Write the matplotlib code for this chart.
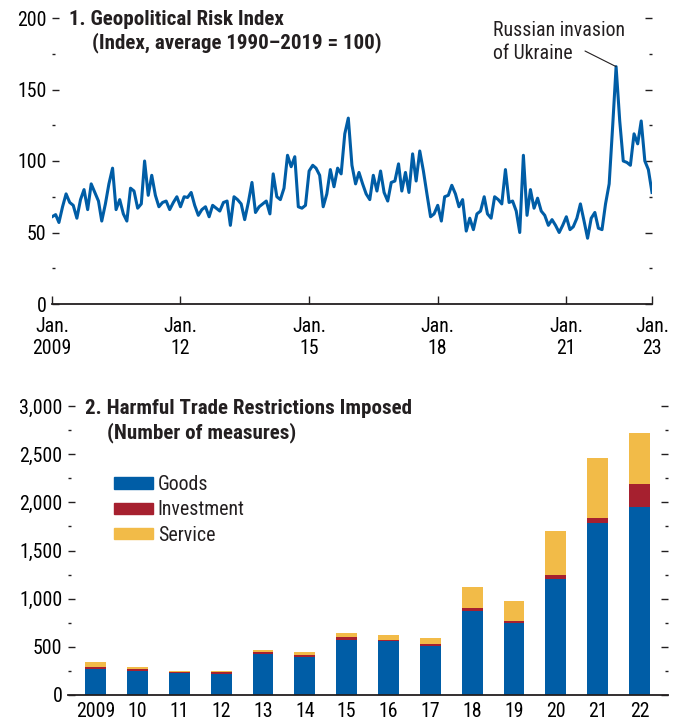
import numpy as np
import pandas as pd
import matplotlib
matplotlib.use('Agg')
import matplotlib.pyplot as plt
from matplotlib.ticker import MultipleLocator, FuncFormatter
from matplotlib.patches import Patch

plt.rcParams['font.family'] = ['Roboto Condensed', 'DejaVu Sans']
plt.rcParams['font.size'] = 14.3
plt.rcParams['text.color'] = '#231F20'

# panel 1: geopolitical risk index, monthly Jan 2009 - Jan 2023
months = pd.date_range('2009-01-01', periods=169, freq='MS')
gpr = [61, 62.5, 57, 68, 77, 71, 69, 60, 73, 80, 66, 84,
       78, 72, 58, 70, 84, 95, 66, 73, 63, 58, 81, 79,
       67, 70, 100, 76, 90, 76, 68, 71, 72, 66, 71, 75,
       68, 75, 74.5, 78, 69, 62, 66, 68, 61, 69, 67, 65,
       71, 72, 55, 75, 73, 70, 59, 71, 85, 64, 68, 70,
       72, 63, 91, 75, 73, 81, 104, 96, 103, 68, 67, 69,
       93, 97, 95, 90, 68, 77, 94, 82, 95, 91, 119, 130,
       97, 84, 92, 84, 77, 73, 90, 79, 93, 78, 72, 85,
       86, 98, 79, 92, 78, 105, 86, 107, 93, 77, 61, 63,
       69, 58, 75, 76, 83, 77, 68, 73, 51, 60, 52, 63,
       65, 75, 63, 60, 75, 73, 70, 94, 71, 72, 65, 50,
       104, 62, 80, 67, 74, 65, 62, 55, 59, 55, 50, 55,
       61, 52, 54, 60, 70, 58, 46, 60, 64, 53, 52, 70,
       84, 126, 166, 128, 100, 99, 97, 119, 112, 128, 100, 94,
       78]
xtick_dates = pd.to_datetime(['2009-01-01', '2012-01-01', '2015-01-01',
                              '2018-01-01', '2021-01-01', '2023-01-01'])
xtick_labels = ['Jan.\n2009', 'Jan.\n12', 'Jan.\n15', 'Jan.\n18', 'Jan.\n21', 'Jan.\n23']

# panel 2: harmful trade restrictions
years = ['2009', '10', '11', '12', '13', '14', '15', '16', '17', '18', '19', '20', '21', '22']
goods = [270, 249, 228, 221, 429, 394, 574, 557, 512, 872, 747, 1204, 1786, 1952]
investment = [17, 24, 14, 21, 21, 21, 32, 10, 21, 35, 25, 45, 55, 238]
service = [59, 21, 11, 11, 21, 35, 38, 56, 62, 218, 207, 457, 623, 533]

blue = '#005DA6'
red = '#A6202F'
yellow = '#F2BB48'
ink = '#231F20'
title_size = 15.1

fig = plt.figure(figsize=(6.79, 7.25), dpi=100)

def style_axis(ax):
    for s in ['top', 'left', 'right']:
        ax.spines[s].set_visible(False)
    ax.spines['bottom'].set_linewidth(1.3)
    ax.spines['bottom'].set_color(ink)
    ax.tick_params(axis='y', which='major', direction='in', length=5, width=1,
                   left=True, right=True, labelleft=True, labelright=False,
                   color=ink, pad=4)
    ax.tick_params(axis='y', which='minor', direction='in', length=2, width=1,
                   left=True, right=True, color=ink)
    ax.patch.set_alpha(0)

# ---- panel 1
ax1 = fig.add_axes([52 / 679, 1 - 304 / 725, 600 / 679, 286 / 725])
ax1.plot(months, gpr, color=blue, lw=2.2)
ax1.set_ylim(0, 200)
ax1.set_xlim(months[0], months[-1])
ax1.yaxis.set_major_locator(MultipleLocator(50))
ax1.yaxis.set_minor_locator(MultipleLocator(25))
style_axis(ax1)
ax1.set_xticks(xtick_dates)
ax1.set_xticklabels(xtick_labels, linespacing=1.2)
ax1.tick_params(axis='x', direction='in', length=6, width=1, color=ink, pad=9)

ax1.text(493 / 679, 1 - 21 / 725, 'Russian invasion\nof Ukraine', transform=fig.transFigure,
         ha='left', va='top', linespacing=1.25)
peak = int(np.argmax(gpr))
ax1.annotate('', xy=(months[peak], gpr[peak]), xytext=(585 / 679, 1 - 51 / 725),
             textcoords='figure fraction',
             arrowprops=dict(arrowstyle='-', color=ink, lw=0.8, shrinkA=0, shrinkB=0))

fig.text(69 / 679, 1 - 25 / 725, '1. Geopolitical Risk Index', fontweight='bold',
         fontsize=title_size, va='baseline')
fig.text(92 / 679, 1 - 48 / 725, '(Index, average 1990\u20132019 = 100)', fontweight='bold',
         fontsize=title_size, va='baseline')

# ---- panel 2
ax2 = fig.add_axes([68 / 679, 1 - 695 / 725, 600 / 679, 289 / 725])
x = np.arange(len(years))
g = np.array(goods)
i = np.array(investment)
s = np.array(service)
ax2.bar(x, g, width=0.5, color=blue, label='Goods')
ax2.bar(x, i, width=0.5, bottom=g, color=red, label='Investment')
ax2.bar(x, s, width=0.5, bottom=g + i, color=yellow, label='Service')
ax2.set_ylim(0, 3000)
ax2.set_xlim(-0.66, len(years) - 1 + 0.68)
ax2.yaxis.set_major_locator(MultipleLocator(500))
ax2.yaxis.set_minor_locator(MultipleLocator(250))
ax2.yaxis.set_major_formatter(FuncFormatter(lambda v, p: f'{int(v):,}'))
style_axis(ax2)
ax2.set_xticks(x)
ax2.set_xticklabels(years)
ax2.tick_params(axis='x', length=0, pad=5)

handles = [Patch(color=blue), Patch(color=red), Patch(color=yellow)]
ax2.legend(handles, ['Goods', 'Investment', 'Service'], loc='upper left',
           bbox_to_anchor=(114 / 679, 1 - 475 / 725), bbox_transform=fig.transFigure,
           frameon=False, borderpad=0, borderaxespad=0, handlelength=1.95,
           handleheight=0.5, labelspacing=0.32, handletextpad=0.25)

fig.text(85 / 679, 1 - 414 / 725, '2. Harmful Trade Restrictions Imposed', fontweight='bold',
         fontsize=title_size, va='baseline')
fig.text(107 / 679, 1 - 438 / 725, '(Number of measures)', fontweight='bold',
         fontsize=title_size, va='baseline')

fig.savefig('out.png', dpi=100)
